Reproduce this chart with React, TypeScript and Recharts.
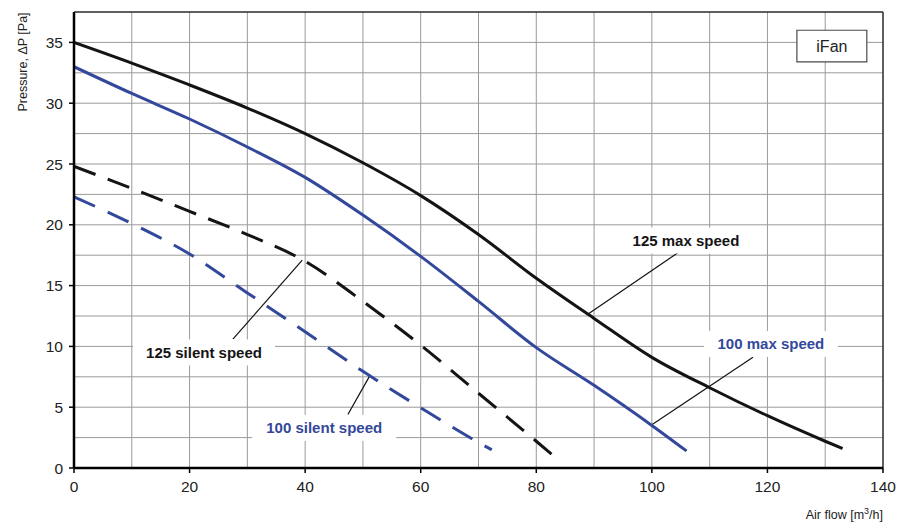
import {
  LineChart,
  Line,
  XAxis,
  YAxis,
  CartesianGrid,
  ReferenceLine,
  ReferenceDot,
  ReferenceArea,
} from "recharts";

// air flow [m3/h] and pressure [Pa]
const max125Flow = [0, 10, 20, 30, 40, 50, 60, 70, 80, 90, 100, 110, 120, 130, 133];
const max125Pressure = [35, 33.3, 31.5, 29.6, 27.5, 25.1, 22.4, 19.2, 15.6, 12.3, 9.1, 6.6, 4.3, 2.2, 1.6];

const max100Flow = [0, 10, 20, 30, 40, 50, 60, 70, 80, 90, 100, 106];
const max100Pressure = [33, 30.8, 28.7, 26.4, 23.9, 20.8, 17.4, 13.7, 9.9, 6.8, 3.5, 1.4];

const silent125Flow = [0, 10, 20, 30, 40, 50, 60, 70, 80, 83];
const silent125Pressure = [24.8, 23, 21.1, 19.2, 17, 13.7, 10.1, 6.15, 2.2, 1];

const silent100Flow = [0, 10, 20, 30, 40, 50, 60, 70, 72.3];
const silent100Pressure = [22.3, 20.1, 17.6, 14.4, 11.2, 7.95, 4.95, 2.1, 1.5];

const xTicks = [0, 20, 40, 60, 80, 100, 120, 140];
const yTicks = [0, 5, 10, 15, 20, 25, 30, 35];
const xGrid = [10, 20, 30, 40, 50, 60, 70, 80, 90, 100, 110, 120, 130];
const yGrid = [2.5, 5, 7.5, 10, 12.5, 15, 17.5, 20, 22.5, 25, 27.5, 30, 32.5, 35];
const xMax = 140;
const yMax = 37.5;

const toPoints = (xs: number[], ys: number[]) => xs.map((x, i) => ({ x, y: ys[i] }));

const max125 = toPoints(max125Flow, max125Pressure);
const max100 = toPoints(max100Flow, max100Pressure);
const silent125 = toPoints(silent125Flow, silent125Pressure);
const silent100 = toPoints(silent100Flow, silent100Pressure);

const BLACK = "#141414";
const BLUE = "#33489b";
const FONT = "'Liberation Sans', Arial, sans-serif";

const curveLabels = [
  { text: "125 max speed", x: 105.9, y: 18.7, color: BLACK, w: 124 },
  { text: "100 max speed", x: 120.6, y: 10.2, color: BLUE, w: 134 },
  { text: "125 silent speed", x: 22.5, y: 9.5, color: BLACK, w: 142 },
  { text: "100 silent speed", x: 43.3, y: 3.3, color: BLUE, w: 144 },
];

const leaders = [
  [{ x: 104.5, y: 17.7 }, { x: 89.1, y: 12.7 }],
  [{ x: 117.5, y: 9.1 }, { x: 99.8, y: 3.5 }],
  [{ x: 27.5, y: 10.6 }, { x: 39.5, y: 17.1 }],
  [{ x: 47.4, y: 4.4 }, { x: 51.2, y: 7.6 }],
];

const labelShape = (text: string, color: string, w: number) => (p: any) => (
  <g>
    <rect x={p.cx - w / 2} y={p.cy - 13} width={w} height={26} fill="#fff" />
    <text
      x={p.cx}
      y={p.cy}
      textAnchor="middle"
      dominantBaseline="central"
      fill={color}
      fontSize={15}
      fontWeight="bold"
      fontFamily={FONT}
    >
      {text}
    </text>
  </g>
);

export default function App() {
  return (
    <div style={{ position: "absolute", left: 0, top: 0, background: "#fff", fontFamily: FONT }}>
      <LineChart width={900} height={526} margin={{ top: 12, right: 17, left: 0, bottom: 0 }}>
        <CartesianGrid
          stroke="#9a9a9a"
          strokeWidth={1}
          verticalCoordinatesGenerator={({ xAxis, offset }: any) =>
            typeof xAxis?.scale === "function"
              ? xGrid.map((v) => xAxis.scale(v))
              : xGrid.map((v) => offset.left + (v / xMax) * offset.width)
          }
          horizontalCoordinatesGenerator={({ yAxis, offset }: any) =>
            typeof yAxis?.scale === "function"
              ? yGrid.map((v) => yAxis.scale(v))
              : yGrid.map((v) => offset.top + offset.height * (1 - v / yMax))
          }
        />
        <XAxis
          type="number"
          dataKey="x"
          domain={[0, xMax]}
          ticks={xTicks}
          height={58}
          allowDataOverflow
          axisLine={{ stroke: "#000", strokeWidth: 2.5 }}
          tickLine={{ stroke: "#000", strokeWidth: 1.5 }}
          tickSize={5}
          tickMargin={8}
          tick={{ fill: "#222", fontSize: 15.5, fontFamily: FONT }}
          label={{
            content: ({ viewBox }: any) => (
              <text
                x={viewBox.x + viewBox.width}
                y={viewBox.y + 51}
                textAnchor="end"
                fontSize={12.5}
                fill="#222"
                fontFamily={FONT}
              >
                Air flow [m
                <tspan baselineShift="super" fontSize={9}>
                  3
                </tspan>
                /h]
              </text>
            ),
          }}
        />
        <YAxis
          type="number"
          dataKey="y"
          domain={[0, yMax]}
          ticks={yTicks}
          width={74}
          allowDataOverflow
          axisLine={{ stroke: "#000", strokeWidth: 2.5 }}
          tickLine={{ stroke: "#000", strokeWidth: 1.5 }}
          tickSize={5}
          tickMargin={6}
          tick={{ fill: "#222", fontSize: 15.5, fontFamily: FONT }}
          label={{
            content: ({ viewBox }: any) => (
              <text
                x={23}
                y={viewBox.y + 50}
                textAnchor="middle"
                dominantBaseline="central"
                transform={`rotate(-90 23 ${viewBox.y + 50})`}
                fontSize={12.5}
                fill="#222"
                fontFamily={FONT}
              >
                Pressure, ΔP [Pa]
              </text>
            ),
          }}
        />
        <ReferenceLine y={yMax} stroke="#2a2a2a" strokeWidth={1.5} ifOverflow="visible" />
        <ReferenceLine x={xMax} stroke="#2a2a2a" strokeWidth={1.5} ifOverflow="visible" />

        {curveLabels.map((l) => (
          <ReferenceDot
            key={l.text}
            x={l.x}
            y={l.y}
            r={1}
            shape={labelShape(l.text, l.color, l.w)}
          />
        ))}
        {leaders.map((seg, i) => (
          <ReferenceLine key={i} segment={seg} stroke="#111" strokeWidth={1.2} />
        ))}

        <ReferenceArea
          x1={125.1}
          x2={137.2}
          y1={33.4}
          y2={36}
          fill="#fff"
          fillOpacity={1}
          stroke="#4a4a4a"
          strokeWidth={1.2}
          label={{ value: "iFan", position: "center", fontSize: 16, fill: "#222", fontFamily: FONT }}
        />

        <Line
          data={silent100}
          dataKey="y"
          type="monotone"
          stroke={BLUE}
          strokeWidth={3}
          strokeDasharray="23 14"
          dot={false}
          isAnimationActive={false}
        />
        <Line
          data={silent125}
          dataKey="y"
          type="monotone"
          stroke={BLACK}
          strokeWidth={3}
          strokeDasharray="23 13"
          dot={false}
          isAnimationActive={false}
        />
        <Line
          data={max100}
          dataKey="y"
          type="monotone"
          stroke={BLUE}
          strokeWidth={3}
          dot={false}
          isAnimationActive={false}
        />
        <Line
          data={max125}
          dataKey="y"
          type="monotone"
          stroke={BLACK}
          strokeWidth={3}
          dot={false}
          isAnimationActive={false}
        />
      </LineChart>
    </div>
  );
}
